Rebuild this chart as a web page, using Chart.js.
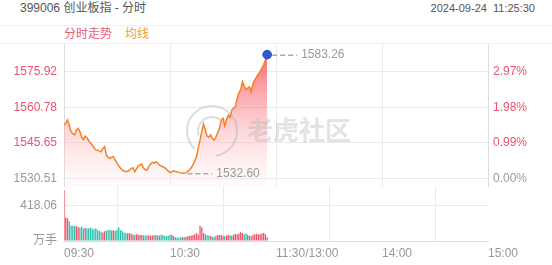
<!DOCTYPE html>
<html><head><meta charset="utf-8">
<script src="https://cdn.jsdelivr.net/npm/chart.js@4.4.1/dist/chart.umd.min.js"></script>
<style>
body{margin:0;background:#fff;width:552px;height:265px;overflow:hidden;position:relative;font-family:'Liberation Sans','Noto Sans CJK SC',sans-serif;}
#title{position:absolute;left:20px;top:0;font-size:12px;line-height:16px;color:#555;white-space:pre}
#time{position:absolute;right:17px;top:0;font-size:11px;line-height:16px;color:#555;white-space:pre}
.hl{position:absolute;left:0;width:552px;height:1px;background:#f0f0f0}
#legend{position:absolute;left:64px;top:26px;font-size:12px;line-height:16px;white-space:pre}
canvas{position:absolute;left:0;top:0}
</style></head>
<body>
<div id="title"></div>
<div id="time"></div>
<div class="hl" style="top:25px"></div>
<div class="hl" style="top:43px"></div>
<div id="legend"><span id="lg1" style="color:#e8607a"></span><span style="display:inline-block;width:13px"></span><span id="lg2" style="color:#f0a035"></span></div>
<canvas id="c1" width="552" height="265"></canvas>
<canvas id="c2" width="552" height="265"></canvas>
<script>
const titleText = '399006 创业板指 - 分时';
const timeText = '2024-09-24  11:25:30';
const legendNames = ['分时走势', '均线'];
const xTickVals = [0, 60, 120, 180, 240];
const xLabels = ['09:30', '10:30', '11:30/13:00', '14:00', '15:00'];
const prevClose = 1530.51;
const priceTicks = [1530.51, 1545.65, 1560.78, 1575.92];
const priceMin = 1527.2, priceMax = 1587.8;
const volTicks = [0, 418.06];
const volMax = 653;
const volUnit = '万手';
const price = [
1553.2,1554.0,1555.4,1553.0,1550.4,1549.5,1549.0,1551.0,1551.8,1550.4,
1548.0,1547.1,1548.5,1547.8,1546.6,1545.5,1544.7,1543.5,1542.6,1542.5,
1542.1,1541.8,1543.2,1544.0,1540.4,1539.4,1539.0,1539.5,1539.7,1538.2,
1537.0,1535.8,1534.8,1534.0,1533.6,1533.3,1533.5,1534.0,1534.6,1535.0,
1533.3,1534.5,1535.7,1536.2,1536.6,1534.8,1534.2,1534.0,1535.6,1536.6,
1537.3,1537.0,1537.6,1537.0,1536.2,1535.8,1535.4,1535.0,1534.3,1533.6,
1532.9,1533.2,1533.7,1533.4,1533.3,1533.0,1532.8,1532.6,1532.7,1532.9,
1533.4,1534.0,1535.0,1536.2,1538.0,1539.7,1543.5,1546.8,1550.5,1553.7,
1551.1,1548.5,1548.0,1549.0,1547.5,1546.8,1548.0,1550.0,1551.8,1555.4,
1556.1,1552.8,1555.5,1557.5,1556.5,1559.6,1560.5,1561.0,1564.6,1567.0,
1568.2,1571.7,1569.9,1568.2,1569.0,1569.6,1567.4,1571.0,1572.5,1573.8,
1575.0,1576.0,1577.5,1578.8,1581.0,1583.26];
const vol = [
605,280,270,235,185,180,178,175,165,160,
168,150,155,148,150,160,145,140,150,135,
120,110,100,115,125,130,132,125,130,120,
135,162,130,115,100,95,90,92,85,78,
72,80,75,70,72,68,65,70,66,64,
66,68,70,62,65,75,68,60,58,62,
75,70,60,45,42,40,44,48,45,50,
55,60,65,70,80,95,75,180,160,95,
80,72,65,60,50,48,62,70,68,72,
58,55,65,70,68,62,75,85,80,90,
105,95,80,90,75,60,58,70,80,85,
78,82,88,95,80,45];

document.getElementById('title').textContent = titleText;
document.getElementById('time').textContent = timeText;
document.getElementById('lg1').textContent = legendNames[0];
document.getElementById('lg2').textContent = legendNames[1];

const FONT = "'Liberation Sans','Noto Sans CJK SC',sans-serif";
const RED = '#e8546e', GREY = '#999', GRID = '#ebebeb', BORDER = '#dcdcdc';

const markPlugin = {
  id: 'marks',
  afterDatasetsDraw(chart) {
    const ctx = chart.ctx, xs = chart.scales.x, ys = chart.scales.y;
    // watermark
    ctx.save();
    ctx.strokeStyle = 'rgba(170,170,170,0.4)';
    ctx.lineWidth = 2;
    ctx.beginPath(); ctx.arc(212, 131, 25, Math.PI * 0.75, Math.PI * 2.45); ctx.stroke();
    ctx.beginPath(); ctx.arc(212, 131, 14, Math.PI * 0.9, Math.PI * 1.7); ctx.stroke();
    ctx.fillStyle = 'rgba(175,175,175,0.35)';
    ctx.font = "bold 26px 'Noto Sans CJK SC'";
    ctx.textBaseline = 'middle';
    ctx.fillText('老虎社区', 247, 130);
    ctx.restore();
    // max / min labels
    let maxI = 0, minI = 0;
    price.forEach((v, i) => { if (v > price[maxI]) maxI = i; if (v < price[minI]) minI = i; });
    [maxI, minI].forEach(i => {
      const px = xs.getPixelForValue(i), py = ys.getPixelForValue(price[i]);
      ctx.save();
      ctx.strokeStyle = '#aaa'; ctx.lineWidth = 1.5; ctx.setLineDash([5, 3]);
      ctx.beginPath(); ctx.moveTo(px + 5, py + 0.5); ctx.lineTo(px + 30, py + 0.5); ctx.stroke();
      ctx.setLineDash([]);
      ctx.fillStyle = GREY; ctx.font = '12px ' + FONT; ctx.textBaseline = 'middle';
      ctx.fillText(price[i].toFixed(2), px + 34, py + 0.5);
      ctx.restore();
    });
  }
};

new Chart(document.getElementById('c1'), {
  type: 'line',
  data: { datasets: [{
    data: price.map((v, i) => ({ x: i, y: v })),
    borderColor: '#f5822a', borderWidth: 1.5, tension: 0,
    pointRadius: c => c.dataIndex === price.length - 1 ? 4.3 : 0,
    pointBackgroundColor: '#2e58d6', pointBorderColor: '#2448b8', pointBorderWidth: 1,
    fill: 'start',
    backgroundColor: c => {
      const a = c.chart.chartArea;
      if (!a) return 'rgba(250,100,100,0.3)';
      const g = c.chart.ctx.createLinearGradient(0, a.top, 0, a.bottom);
      g.addColorStop(0, 'rgba(248,70,80,0.92)');
      g.addColorStop(0.5, 'rgba(250,140,145,0.5)');
      g.addColorStop(1, 'rgba(255,225,225,0.15)');
      return g;
    }
  }]},
  options: {
    animation: false, responsive: false, events: [],
    plugins: { legend: { display: false }, tooltip: { enabled: false } },
    layout: { padding: { top: 44, bottom: 79, left: 0, right: 0 } },
    scales: {
      x: { type: 'linear', min: 0, max: 240,
        afterBuildTicks: s => { s.ticks = xTickVals.map(v => ({ value: v })); },
        ticks: { display: false }, grid: { color: GRID, drawTicks: false }, border: { display: false },
        afterFit: s => { s.height = 0; } },
      y: { position: 'left', min: priceMin, max: priceMax,
        afterBuildTicks: s => { s.ticks = priceTicks.map(v => ({ value: v })); },
        ticks: { padding: 7, font: { family: FONT, size: 12 }, callback: v => v.toFixed(2),
          color: c => c.tick.value === prevClose ? GREY : RED },
        grid: { color: GRID, drawTicks: false }, border: { color: BORDER },
        afterFit: s => { s.width = 64; } },
      y1: { position: 'right', min: priceMin, max: priceMax,
        afterBuildTicks: s => { s.ticks = priceTicks.map(v => ({ value: v })); },
        ticks: { padding: 5, font: { family: FONT, size: 12 },
          callback: v => ((v - prevClose) / prevClose * 100).toFixed(2) + '%',
          color: c => c.tick.value === prevClose ? GREY : RED },
        grid: { drawOnChartArea: false, drawTicks: false }, border: { color: BORDER },
        afterFit: s => { s.width = 64; } }
    }
  },
  plugins: [markPlugin]
});

const volColors = vol.map((v, i) => {
  if (i === 0) return '#f0506a';
  return price[i] > price[i - 1] ? '#f0506a' : (price[i] < price[i - 1] ? '#2cc0ab' : '#999');
});

new Chart(document.getElementById('c2'), {
  type: 'bar',
  data: { datasets: [{
    data: vol.map((v, i) => ({ x: i, y: v })),
    backgroundColor: volColors, borderWidth: 0,
    barPercentage: 0.72, categoryPercentage: 1
  }]},
  options: {
    animation: false, responsive: false, events: [],
    plugins: { legend: { display: false }, tooltip: { enabled: false } },
    layout: { padding: { top: 186, bottom: 0, left: 0, right: 64 } },
    scales: {
      x: { type: 'linear', min: 0, max: 240, offset: false,
        afterBuildTicks: s => { s.ticks = xTickVals.map(v => ({ value: v })); },
        ticks: { callback: (v, i) => xLabels[i], align: 'start', color: GREY, padding: 5,
          maxRotation: 0, autoSkip: false, font: { family: FONT, size: 12 } },
        grid: { color: GRID, drawTicks: false }, border: { color: BORDER },
        afterFit: s => { s.height = 24; } },
      y: { min: 0, max: volMax,
        afterBuildTicks: s => { s.ticks = volTicks.map(v => ({ value: v })); },
        ticks: { padding: 7, color: GREY, font: { family: FONT, size: 12 },
          callback: v => v === 0 ? volUnit : v.toFixed(2) },
        grid: { color: GRID, drawTicks: false }, border: { display: false },
        afterFit: s => { s.width = 64; } }
    }
  }
});
</script>
</body></html>
